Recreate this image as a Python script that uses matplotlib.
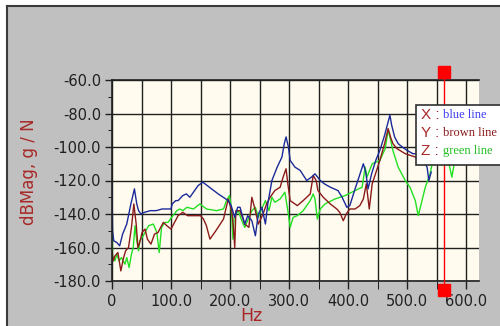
import numpy as np
import matplotlib.pyplot as plt
from matplotlib.patches import Rectangle
from matplotlib.ticker import MultipleLocator, FuncFormatter

# blue line (X)
blue_hz = [0, 1, 3, 8, 13, 18, 25, 32, 38, 42, 45, 49, 55, 65, 75, 85, 95, 100, 102, 108,
           112, 120, 126, 132, 140, 146, 154, 165, 180, 197, 202, 208, 213, 217, 225, 230,
           237, 243, 248, 254, 260, 264, 271, 280, 288, 292, 295, 299, 302, 310, 319, 330,
           338, 344, 353, 360, 370, 383, 390, 398, 403, 412, 426, 430, 434, 440, 447, 454,
           462, 468, 471, 474, 479, 485, 492, 500, 510, 517, 525, 534, 537, 541]
blue_db = [-123, -150, -156, -157, -159, -152, -146, -134, -125, -134, -138, -140, -139, -138,
           -138, -137, -137, -137, -134, -132, -132, -129, -128, -130, -126, -123, -121, -124,
           -128, -132, -135, -142, -136, -136, -146, -141, -144, -153, -140, -136, -146, -134,
           -120, -112, -106, -98, -94, -100, -108, -112, -114, -120, -118, -116, -120, -122,
           -124, -126, -130, -136, -135, -125, -110, -115, -125, -116, -108, -102, -93, -85,
           -81, -87, -94, -98, -100, -102, -104, -104, -107, -112, -120, -115]

# brown line (Y)
brown_hz = [0, 2, 5, 10, 15, 19, 23, 28, 33, 37, 41, 44, 47, 51, 56, 60, 66, 72, 78, 87, 93,
            100, 106, 112, 120, 128, 140, 150, 155, 160, 166, 170, 176, 189, 197, 203, 206,
            208, 210, 217, 225, 232, 237, 243, 248, 256, 262, 268, 276, 285, 290, 295, 298,
            302, 310, 314, 324, 336, 341, 346, 349, 358, 370, 381, 386, 392, 397, 403, 412,
            420, 426, 431, 436, 441, 454, 462, 468, 472, 476, 483, 497, 514, 530, 545]
brown_db = [-162, -168, -165, -163, -174, -167, -162, -160, -148, -134, -146, -160, -157, -151,
            -149, -155, -158, -152, -151, -145, -147, -149, -145, -141, -139, -141, -141, -141,
            -143, -147, -155, -153, -150, -143, -131, -138, -149, -160, -138, -138, -146, -148,
            -130, -138, -146, -140, -134, -130, -126, -124, -118, -113, -122, -132, -134, -135,
            -132, -128, -117, -120, -126, -130, -134, -137, -139, -144, -140, -137, -137, -135,
            -131, -122, -137, -122, -108, -98, -89, -94, -98, -101, -104, -106, -108, -110]

# green line (Z)
green_hz = [0, 1, 5, 8, 12, 16, 22, 25, 29, 33, 36, 39, 42, 45, 47, 53, 62, 70, 76, 80, 84,
            90, 95, 101, 110, 115, 120, 127, 138, 149, 160, 177, 189, 194, 199, 201, 203, 205,
            207, 214, 220, 225, 231, 237, 243, 248, 251, 260, 266, 271, 276, 285, 293, 298,
            302, 307, 314, 324, 336, 341, 344, 348, 353, 361, 378, 395, 412, 424, 429, 432,
            441, 454, 463, 468, 471, 476, 485, 497, 505, 514, 519, 524, 531, 539, 544, 550,
            560, 568, 576, 580, 585]
green_db = [-126, -165, -168, -164, -168, -166, -170, -166, -172, -164, -160, -147, -156, -162,
            -156, -153, -147, -146, -151, -163, -148, -145, -145, -142, -138, -137, -138, -136,
            -137, -134, -137, -138, -137, -132, -129, -133, -141, -155, -142, -138, -144, -148,
            -143, -138, -136, -142, -139, -132, -138, -130, -133, -131, -127, -138, -148, -142,
            -141, -138, -132, -128, -131, -143, -137, -134, -131, -129, -126, -124, -112, -118,
            -110, -108, -101, -90, -94, -102, -112, -120, -124, -132, -141, -134, -124, -116,
            -108, -100, -95, -105, -118, -110, -100]

cursor_hz = 563
legend_keys = ['X :', 'Y :', 'Z :']
legend_names = ['blue line', 'brown line', 'green line']

W, H = 500, 326
fig = plt.figure(figsize=(5, 3.26), dpi=100, facecolor='#c0c0c0')
ax = fig.add_axes([112 / W, 45 / H, 367 / W, 201 / H])
ax.set_facecolor('#fffcef')

# white margin and dark frame top/left
fig.add_artist(Rectangle((0, 320 / H), 1, 6 / H, transform=fig.transFigure,
                         facecolor='white', edgecolor='none', zorder=-2))
fig.add_artist(Rectangle((0, 0), 7 / W, 1, transform=fig.transFigure,
                         facecolor='white', edgecolor='none', zorder=-2))
fig.add_artist(plt.Line2D([7 / W, 1], [320 / H, 320 / H], transform=fig.transFigure,
                          color='#3a3a3a', lw=1.5, zorder=-1))
fig.add_artist(plt.Line2D([7 / W, 7 / W], [0, 320 / H], transform=fig.transFigure,
                          color='#3a3a3a', lw=1.5, zorder=-1))

ax.plot(green_hz, green_db, color='#22e022', lw=1)
ax.plot(brown_hz, brown_db, color='#8b1a1a', lw=1)
ax.plot(blue_hz, blue_db, color='#1a2a9a', lw=1)

ax.set_xlim(0, 622)
ax.set_ylim(-180, -60)
ax.xaxis.set_major_locator(MultipleLocator(100))
ax.xaxis.set_minor_locator(MultipleLocator(50))
ax.yaxis.set_major_locator(MultipleLocator(20))
ax.yaxis.set_minor_locator(MultipleLocator(10))
ax.xaxis.set_major_formatter(FuncFormatter(lambda v, p: '0' if v == 0 else '%.1f' % v))
ax.yaxis.set_major_formatter(FuncFormatter(lambda v, p: '%.1f' % v))
ax.grid(True, which='major', color='#202020', lw=1)
ax.grid(True, which='minor', axis='x', color='#202020', lw=1)
ax.set_axisbelow(True)
for lbl in ax.get_xticklabels() + ax.get_yticklabels():
    lbl.set_fontfamily('DejaVu Sans')
ax.tick_params(axis='both', which='major', labelsize=10.5, colors='#202020', width=1)
ax.tick_params(axis='x', which='both', length=6, pad=3.5)
ax.tick_params(axis='y', which='major', length=5, pad=3)
ax.tick_params(axis='y', which='minor', length=3)
ax.spines['right'].set_visible(False)
for s in ['top', 'left', 'bottom']:
    ax.spines[s].set_color('#202020')
    ax.spines[s].set_linewidth(1.2)

fig.text(29 / W, 1 - 172 / H, 'dBMag, g / N', rotation=90, ha='center', va='center',
         color='#a82828', fontsize=12, family='DejaVu Sans')
fig.text(251 / W, 1 - 316 / H, 'Hz', ha='center', va='center',
         color='#a82828', fontsize=12.5, family='DejaVu Sans')

# cursor
ax.plot([cursor_hz, cursor_hz], [-55.5, -185.4], color='red', lw=1, clip_on=False, zorder=5)
ax.plot([cursor_hz, cursor_hz], [-55.5, -185.4], ls='none', marker='s', ms=8.5,
        color='red', clip_on=False, zorder=6)

# legend box
fig.add_artist(Rectangle((416 / W, 1 - 165 / H), 0.3, 60 / H, transform=fig.transFigure,
                         facecolor='white', edgecolor='#303030', lw=1.2, zorder=10))
name_colors = ['#3c3cf0', '#8b1a1a', '#22c022']
for i, (k, n) in enumerate(zip(legend_keys, legend_names)):
    yy = 1 - (115 + 18 * i) / H
    fig.text(421 / W, yy, k, color='#a82828', fontsize=11, family='Liberation Sans',
             va='center', zorder=11)
    fig.text(443 / W, yy, n, color=name_colors[i], fontsize=9, family='Liberation Serif',
             va='center', zorder=11)

fig.savefig('out.png', dpi=100, facecolor=fig.get_facecolor())
